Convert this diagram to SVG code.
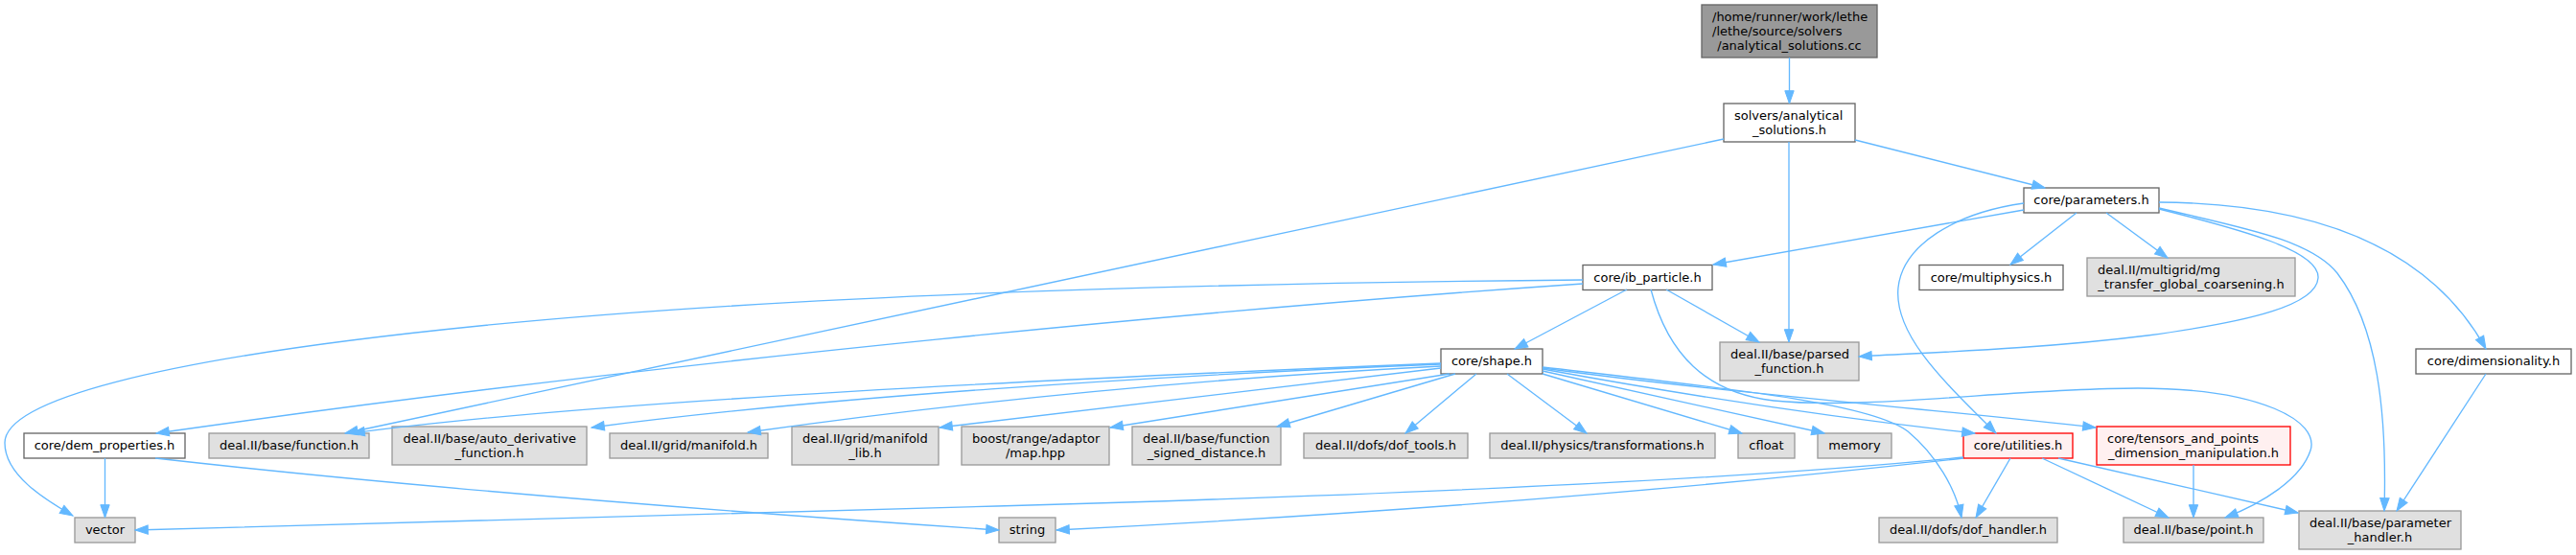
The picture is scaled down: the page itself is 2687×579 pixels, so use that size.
<svg xmlns="http://www.w3.org/2000/svg" width="2687" height="579" viewBox="0 0 2687 579">
<style>
.n rect{fill:#ffffff;stroke:#666666;stroke-width:1.33}
.g rect{fill:#e0e0e0;stroke:#999999;stroke-width:1.33}
.r rect{fill:#fff0f0;stroke:#ff0000;stroke-width:1.33}
.root rect{fill:#999999;stroke:#666666;stroke-width:1.33}
text{font-family:"DejaVu Sans","Liberation Sans",sans-serif;font-size:13px;fill:#000000}
.c{text-anchor:middle}
#edges path{fill:none;stroke:#63b8ff;stroke-width:1.33;marker-end:url(#ah)}
</style>
<defs>
<marker id="ah" markerUnits="userSpaceOnUse" markerWidth="13.3" markerHeight="9.4" viewBox="0 0 13.3 9.4" refX="13.3" refY="4.7" orient="auto" overflow="visible">
<path d="M0,0 L13.3,4.7 L0,9.4 z" fill="#63b8ff" stroke="#63b8ff" stroke-width="1"/>
</marker>
</defs>
<rect width="2687" height="579" fill="#ffffff"/>

<g id="root" class="root"><rect x="1775" y="5" width="183" height="55"/>
<text x="1786" y="21.5">/home/runner/work/lethe</text><text x="1786" y="36.5">/lethe/source/solvers</text><text class="c" x="1866.5" y="51.5">/analytical_solutions.cc</text></g>
<g id="solvers" class="n"><rect x="1798" y="108" width="137" height="40"/>
<text x="1809" y="124.5">solvers/analytical</text><text class="c" x="1866.5" y="139.5">_solutions.h</text></g>
<g id="parameters" class="n"><rect x="2111" y="196" width="141" height="26"/><text class="c" x="2181.5" y="213">core/parameters.h</text></g>
<g id="ib_particle" class="n"><rect x="1651" y="276.5" width="135" height="26"/><text class="c" x="1718.5" y="293.5">core/ib_particle.h</text></g>
<g id="multiphysics" class="n"><rect x="2002" y="276.5" width="150" height="26"/><text class="c" x="2077" y="293.5">core/multiphysics.h</text></g>
<g id="mg_transfer" class="g"><rect x="2177" y="269" width="217" height="40"/>
<text x="2188" y="285.5">deal.II/multigrid/mg</text><text class="c" x="2285.5" y="300.5">_transfer_global_coarsening.h</text></g>
<g id="shape" class="n"><rect x="1503" y="364" width="106" height="26"/><text class="c" x="1556" y="381">core/shape.h</text></g>
<g id="parsed_function" class="g"><rect x="1794" y="357" width="145" height="40"/>
<text x="1805" y="373.5">deal.II/base/parsed</text><text class="c" x="1866.5" y="388.5">_function.h</text></g>
<g id="dimensionality" class="n"><rect x="2520" y="364" width="162" height="26"/><text class="c" x="2601" y="381">core/dimensionality.h</text></g>
<g id="dem_properties" class="n"><rect x="25" y="452" width="168" height="26"/><text class="c" x="109" y="469">core/dem_properties.h</text></g>
<g id="function" class="g"><rect x="218" y="452" width="167" height="26"/><text class="c" x="301.5" y="469">deal.II/base/function.h</text></g>
<g id="auto_derivative" class="g"><rect x="409" y="445" width="203" height="40"/>
<text x="420.5" y="461.5">deal.II/base/auto_derivative</text><text class="c" x="510.5" y="476.5">_function.h</text></g>
<g id="manifold" class="g"><rect x="636" y="452" width="165" height="26"/><text class="c" x="718.5" y="469">deal.II/grid/manifold.h</text></g>
<g id="manifold_lib" class="g"><rect x="826" y="445" width="153" height="40"/>
<text x="837" y="461.5">deal.II/grid/manifold</text><text class="c" x="902.5" y="476.5">_lib.h</text></g>
<g id="boost_map" class="g"><rect x="1003" y="445" width="154" height="40"/>
<text x="1014" y="461.5">boost/range/adaptor</text><text class="c" x="1080" y="476.5">/map.hpp</text></g>
<g id="signed_distance" class="g"><rect x="1181" y="445" width="155" height="40"/>
<text x="1192" y="461.5">deal.II/base/function</text><text class="c" x="1258.5" y="476.5">_signed_distance.h</text></g>
<g id="dof_tools" class="g"><rect x="1360" y="452" width="171" height="26"/><text class="c" x="1445.5" y="469">deal.II/dofs/dof_tools.h</text></g>
<g id="transformations" class="g"><rect x="1554" y="452" width="235" height="26"/><text class="c" x="1671.5" y="469">deal.II/physics/transformations.h</text></g>
<g id="cfloat" class="g"><rect x="1813" y="452" width="59" height="26"/><text class="c" x="1842.5" y="469">cfloat</text></g>
<g id="memory" class="g"><rect x="1896" y="452" width="77" height="26"/><text class="c" x="1934.5" y="469">memory</text></g>
<g id="utilities" class="r"><rect x="2048" y="452" width="114" height="26"/><text class="c" x="2105" y="469">core/utilities.h</text></g>
<g id="tensors" class="r"><rect x="2187" y="445" width="202" height="40"/>
<text x="2198" y="461.5">core/tensors_and_points</text><text class="c" x="2288" y="476.5">_dimension_manipulation.h</text></g>
<g id="vector" class="g"><rect x="78" y="540" width="63" height="26"/><text class="c" x="109.5" y="557">vector</text></g>
<g id="string" class="g"><rect x="1042" y="540" width="59" height="26"/><text class="c" x="1071.5" y="557">string</text></g>
<g id="dof_handler" class="g"><rect x="1960" y="540" width="186" height="26"/><text class="c" x="2053" y="557">deal.II/dofs/dof_handler.h</text></g>
<g id="point" class="g"><rect x="2215" y="540" width="146" height="26"/><text class="c" x="2288" y="557">deal.II/base/point.h</text></g>
<g id="parameter_handler" class="g"><rect x="2398" y="533" width="169" height="40"/>
<text x="2409" y="549.5">deal.II/base/parameter</text><text class="c" x="2482.5" y="564.5">_handler.h</text></g>

<g id="edges">
<path d="M1866.5,60 L1866.5,108"/>
<path d="M1798,145 L360,452"/>
<path d="M1866,148 L1866,357"/>
<path d="M1935,146 L2133,196"/>
<path d="M2111,219 L1787,276"/>
<path d="M2111,212 C2040,222 1985,255 1980,300 C1975,350 2030,400 2082,452"/>
<path d="M2166,222 L2097,276"/>
<path d="M2197,222 L2261,269"/>
<path d="M2252,218 C2340,240 2420,262 2418,290 C2416,318 2350,335 2240,350 C2120,365 2000,368 1939,372"/>
<path d="M2252,217 C2340,238 2410,250 2438,285 C2480,340 2490,430 2487,533"/>
<path d="M2252,211 C2400,212 2530,250 2593,364"/>
<path d="M1651,292 C1200,296 800,310 500,340 C150,375 5,420 5,462 C5,495 45,520 76,538"/>
<path d="M1651,296 C1300,320 700,375 163,452"/>
<path d="M1697,302 L1580,364"/>
<path d="M1738,302 L1835,357"/>
<path d="M1722,302 C1740,370 1780,410 1850,418 C1950,428 2100,405 2230,405 C2360,405 2420,440 2410,470 C2400,500 2360,525 2321,540"/>
<path d="M1503,379 C1100,395 600,420 367,452"/>
<path d="M1503,380 C1200,392 850,415 617,446"/>
<path d="M1503,382 C1250,395 1000,420 780,451"/>
<path d="M1503,384 L980,446"/>
<path d="M1512,390 L1158,446"/>
<path d="M1518,390 L1332,445"/>
<path d="M1540,390 L1466,452"/>
<path d="M1572,390 L1655,452"/>
<path d="M1609,390 L1817,452"/>
<path d="M1609,387 L1903,452"/>
<path d="M1609,385 C1800,420 1950,440 2060,452"/>
<path d="M1609,384 C1800,410 2000,425 2186,446"/>
<path d="M1609,383 C1800,405 1950,420 1990,450 C2020,475 2040,510 2046,540"/>
<path d="M2048,477 C1850,497 1500,515 1040,528 C700,538 400,546 141,553"/>
<path d="M2048,478 C1850,500 1550,530 1102,553"/>
<path d="M2097,478 L2061,540"/>
<path d="M2130,478 L2262,540"/>
<path d="M2147,478 L2397,535"/>
<path d="M2288,485 L2288,540"/>
<path d="M2593,390 L2500,533"/>
<path d="M109.5,478 L109.5,540"/>
<path d="M162,478 C400,505 700,530 1042,553"/>
</g>
</svg>
